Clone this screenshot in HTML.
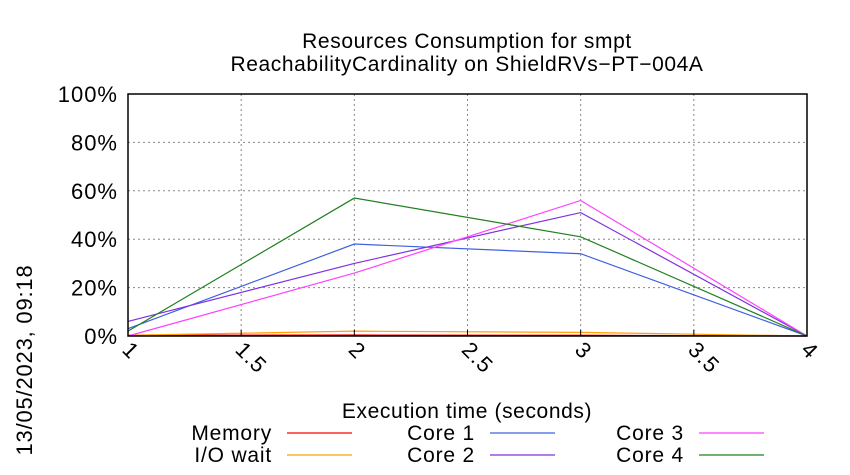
<!DOCTYPE html>
<html><head><meta charset="utf-8"><style>
body{margin:0;background:#fff;}
svg{display:block;font-family:"Liberation Sans",sans-serif;}
</style></head><body>
<svg width="850" height="475" xmlns="http://www.w3.org/2000/svg">
<text x="467" y="48" font-size="21" letter-spacing="0.6" text-anchor="middle">Resources Consumption for smpt</text>
<text x="467" y="71" font-size="21" letter-spacing="0.6" text-anchor="middle">ReachabilityCardinality on ShieldRVs−PT−004A</text>
<g id="grid"></g>
<g id="series"></g>
<rect x="128" y="94" width="679" height="242" fill="none" stroke="#000" stroke-width="1.5"/>
<g id="axes" font-size="22" letter-spacing="1"></g>
<text x="467" y="418" font-size="21" letter-spacing="0.6" text-anchor="middle">Execution time (seconds)</text>
<text transform="translate(32,360) rotate(-90)" font-size="22" letter-spacing="0.8" text-anchor="middle">13/05/2023, 09:18</text>
<g id="legend" font-size="21" letter-spacing="0.8"></g>
</svg>
<script>
const xTicks=[1,1.5,2,2.5,3,3.5,4];
const yTicks=[0,20,40,60,80,100];
const times=[1,2,3,4];
const seriesNames=["Memory","I/O wait","Core 1","Core 2","Core 3","Core 4"];
const seriesColors=["#ff0000","#ffa000","#4060e0","#8030e0","#ff40ff","#208020"];
const memory=[0.3,0.4,0.3,0];
const ioWait=[0.3,2,1.5,0];
const core1=[3,38,34,0];
const core2=[6,30,51,0];
const core3=[0,26,56,0];
const core4=[2,57,41,0];
const allSeries=[memory,ioWait,core1,core2,core3,core4];
const NS="http://www.w3.org/2000/svg";
const X=v=>128+(v-1)/3*679;
const Y=v=>336-v/100*242;
function mk(t,a,p){const e=document.createElementNS(NS,t);for(const k in a)e.setAttribute(k,a[k]);p.appendChild(e);return e;}
const grid=document.getElementById('grid'),axes=document.getElementById('axes');
yTicks.forEach(t=>{
 if(t>0&&t<100){const l=mk('line',{x1:128,x2:807,y1:Y(t),y2:Y(t),stroke:'#888','stroke-dasharray':'2,3'},grid);
 
 }
 const tx=mk('text',{x:118,y:Y(t)+8,'text-anchor':'end'},axes);tx.textContent=t+'%';
 
 
});
xTicks.forEach(t=>{
 if(t>1&&t<4){const l=mk('line',{x1:X(t),x2:X(t),y1:94,y2:336,stroke:'#888','stroke-dasharray':'2,3'},grid);
 
 }
 const tk=mk('line',{x1:X(t),x2:X(t),y1:336,y2:330,stroke:'#000'},axes);
 
 
 const tx=mk('text',{x:0,y:0,transform:`translate(${X(t)-7},${351}) rotate(45)`},axes);tx.textContent=String(t);
 
 
});
const sg=document.getElementById('series');
allSeries.forEach((s,i)=>{
 const p=mk('polyline',{points:s.map((v,j)=>X(times[j])+','+Y(v)).join(' '),fill:'none',stroke:seriesColors[i],'stroke-width':1.2},sg);
 
 
});
const lg=document.getElementById('legend');
const colTextX=[272,475,684],rowY=[440,462];
seriesNames.forEach((n,i)=>{
 const c=Math.floor(i/2),r=i%2;
 const g=mk('g',{},lg);
 
 
 const t=mk('text',{x:colTextX[c],y:rowY[r],'text-anchor':'end'},g);t.textContent=n;
 mk('line',{x1:colTextX[c]+15,x2:colTextX[c]+80,y1:rowY[r]-7,y2:rowY[r]-7,stroke:seriesColors[i],'stroke-width':1.2},g);
});
</script>
</body></html>
